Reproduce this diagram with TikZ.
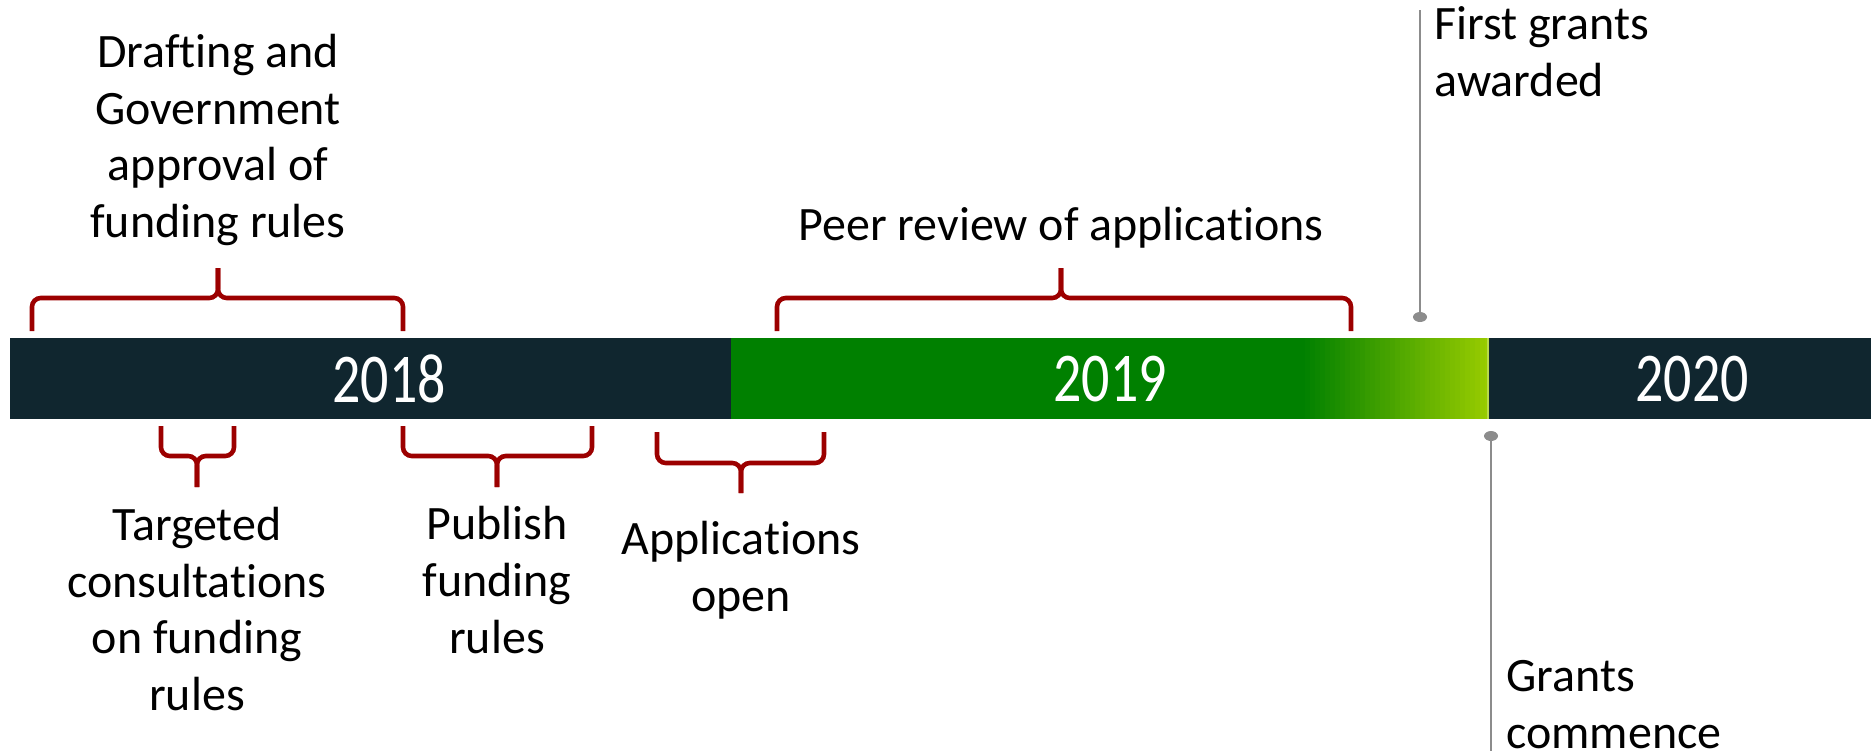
\documentclass[tikz,border=0pt]{standalone}
\usepackage{fontspec}
\setmainfont[Ligatures=NoCommon]{Carlito}
\newfontfamily\yearfont[FakeStretch=0.8]{Carlito}
\usetikzlibrary{calc}
\definecolor{bardark}{HTML}{10262F}
\definecolor{bargreen}{HTML}{008000}
\definecolor{barlime}{HTML}{99CC00}
\definecolor{bracered}{HTML}{9C0000}
\definecolor{pingray}{HTML}{8C8C8C}
\tikzset{
  bracket/.style={color=bracered, line width=2.6pt, rounded corners=5pt},
  pinline/.style={color=pingray, line width=1.4pt},
  label/.style={font=\fontsize{27.3}{32.4}\selectfont, align=center, inner sep=0pt},
  year/.style={font=\yearfont\fontsize{39.8}{40}\selectfont, text=white, inner sep=0pt}
}
\def\timebrace(#1:#2:#3)(#4:#5:#6){\draw[bracket] (#1,#4) -- (#1,#5) -- (#3,#5) -- (#3,#6); \draw[bracket] (#2,#4) -- (#2,#5) -- (#3,#5) -- (#3,#6);}

\begin{document}
\begin{tikzpicture}[x=0.02cm, y=-0.02cm]
			%%%%% START %%%%%
			\useasboundingbox (0, 0) rectangle (1871, 751);
			
			% the bar
			\fill[bardark] (10, 338) rectangle (731, 419);
			\fill[bargreen] (731, 338) rectangle (1301, 419);
			\foreach \i in {0,...,37}{
				\pgfmathtruncatemacro\pct{\i*100/37}
				\fill[barlime!\pct!bargreen] (1300+5*\i, 338) rectangle (1305.5+5*\i, 419);
			}
			\fill[barlime!70!white] (1487, 338) rectangle (1489, 419);
			\fill[bardark] (1489, 338) rectangle (1871, 419);
			
			\node[year] (year2018) at (389, 379) {2018};
			\node[year] (year2019) at (1110, 379) {2019};
			\node[year] (year2020) at (1692, 379) {2020};
			
			% braces above
			\timebrace(32:403:218)(331:298:268);
			\timebrace(777:1351:1061)(331:298:268);
			
			% braces below
			\timebrace(161:234:197)(426:456:487);
			\timebrace(403:592:497)(426:456:487);
			\timebrace(657:824:741)(432:463:493);
			
			\node[label] (drafting) at (218, 140) {Drafting and\\Government\\approval of\\funding rules};
			\node[label] (peer) at (1061, 228) {Peer review of applications};
			\node[label] (targeted) at (197, 609) {Targeted\\consultations\\on funding\\rules};
			\node[label] (publish) at (497, 580) {Publish\\funding\\rules};
			\node[label] (applications) at (741, 570) {Applications\\open};
			
			% pins
			\draw[pinline] (1420, 10) -- (1420, 317);
			\fill[pingray] (1420, 317) ellipse (7 and 5);
			\node[label, align=left, anchor=west] (firstgrants) at (1434, 52) {First grants\\awarded};
			
			\draw[pinline] (1491, 436) -- (1491, 751);
			\fill[pingray] (1491, 436) ellipse (7 and 5);
			\node[label, align=left, anchor=west] (commence) at (1506, 705) {Grants\\commence};
			%%%%% END %%%%%
\end{tikzpicture}
\end{document}
